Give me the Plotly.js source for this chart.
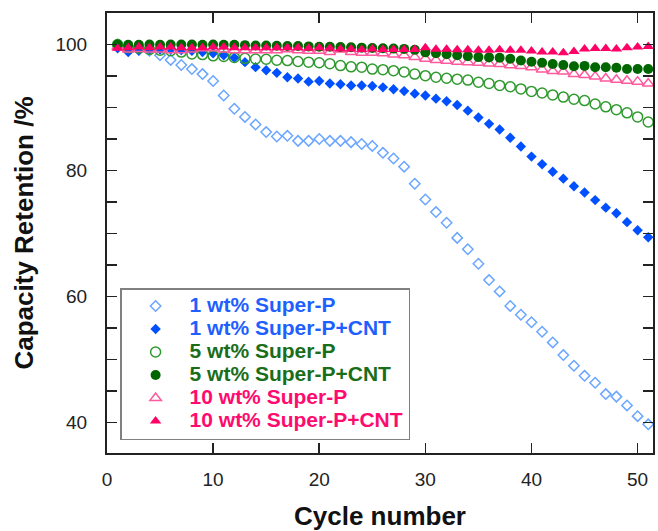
<!DOCTYPE html>
<html>
<head>
<meta charset="utf-8">
<script src="https://cdn.plot.ly/plotly-3.0.1.min.js"></script>
<style>html,body{margin:0;padding:0;background:#fff;}#chart{width:658px;height:531px;}</style>
</head>
<body>
<div id="chart"></div>
<script>
const cycles = [1,2,3,4,5,6,7,8,9,10,11,12,13,14,15,16,17,18,19,20,21,22,23,24,25,26,27,28,29,30,31,32,33,34,35,36,37,38,39,40,41,42,43,44,45,46,47,48,49,50,51];

const sp1 = [100.0,99.7,99.4,99.0,98.3,97.55,96.75,96.1,95.3,94.2,91.9,89.8,88.5,87.3,86.1,85.4,85.5,84.7,84.7,85.0,84.7,84.7,84.5,84.2,83.9,82.8,81.9,80.6,77.9,75.4,73.4,71.7,69.3,67.5,65.2,62.6,60.8,58.5,57.1,55.9,54.4,52.7,50.7,49.0,47.4,46.3,44.5,44.1,42.7,41.0,39.7];
const sp1cnt = [99.4,98.8,99.0,99.2,99.2,99.2,99.1,99.0,98.8,98.6,98.3,97.9,97.2,96.4,95.9,95.5,94.8,94.6,94.1,94.2,93.8,93.7,93.5,93.5,93.4,93.2,92.9,92.6,92.2,91.9,91.4,91.0,90.4,89.5,88.4,87.4,86.5,85.2,83.8,82.2,81.0,79.8,78.7,77.5,76.5,75.3,74.1,73.2,71.8,70.5,69.4];
const sp5 = [100.0,99.5,99.4,99.2,99.1,99.0,98.8,98.5,98.4,98.2,98.1,97.95,97.8,97.7,97.65,97.5,97.45,97.3,97.2,97.1,96.95,96.65,96.45,96.4,96.1,96.0,95.85,95.65,95.3,95.05,94.8,94.65,94.5,94.35,94.0,93.8,93.5,93.3,92.95,92.55,92.3,92.0,91.65,91.3,91.1,90.55,90.1,89.65,89.15,88.5,87.7];
const sp5cnt = [100.0,99.95,99.95,100.0,99.95,100.0,100.0,100.0,99.95,100.0,99.95,99.95,99.9,99.85,99.85,99.8,99.75,99.75,99.7,99.65,99.65,99.6,99.55,99.5,99.45,99.4,99.35,99.3,99.15,98.75,98.6,98.45,98.3,98.15,98.0,97.95,97.9,97.75,97.45,97.25,97.1,96.9,96.75,96.55,96.6,96.4,96.4,96.3,96.1,96.1,96.1];
const sp10 = [99.6,99.2,99.3,99.2,99.2,99.1,99.1,99.2,99.4,99.4,99.2,99.1,99.1,99.1,99.1,99.1,99.25,99.1,99.0,99.0,98.8,99.2,98.8,98.7,98.7,98.6,98.4,98.3,98.0,97.75,97.55,97.4,97.25,97.2,97.1,97.0,96.9,96.7,96.6,96.4,96.05,95.8,95.7,95.3,95.15,94.9,94.6,94.4,94.25,94.1,93.8];
const sp10cnt = [99.4,99.5,99.6,99.5,99.6,99.6,99.5,99.5,99.5,99.6,99.6,99.5,99.5,99.5,99.5,99.5,99.5,99.5,99.4,99.5,99.4,99.3,99.3,99.2,99.3,99.2,99.2,99.2,99.2,99.5,99.25,99.25,99.15,99.15,99.1,99.1,99.15,99.1,99.1,98.95,98.8,98.8,98.7,98.9,99.3,99.35,99.35,99.3,99.5,99.6,99.7];

const seriesNames = ["1 wt% Super-P","1 wt% Super-P+CNT","5 wt% Super-P","5 wt% Super-P+CNT","10 wt% Super-P","10 wt% Super-P+CNT"];
const yTickVals = [40,45,50,55,60,65,70,75,80,85,90,95,100];
const yTickText = ["40","","","","60","","","","80","","","","100"];
const xTickVals = [0,10,20,30,40,50];

const txtBlue = "#1f5fff", txtGreen = "#1a6e1a", txtPink = "#ff0a6e";
function lname(n, c){ return '<span style="color:'+c+';font-size:21px;font-weight:bold">'+n+'</span>'; }

const traces = [
  {x:cycles, y:sp1, name:lname(seriesNames[0],txtBlue), legendrank:1, mode:'markers', type:'scatter',
   marker:{symbol:'diamond-open', size:8, color:'#6aa6ff', line:{width:1.5, color:'#6aa6ff'}}},
  {x:cycles, y:sp1cnt, name:lname(seriesNames[1],txtBlue), legendrank:2, mode:'markers', type:'scatter',
   marker:{symbol:'diamond', size:8, color:'#0050ff'}},
  {x:cycles, y:sp5, name:lname(seriesNames[2],txtGreen), legendrank:3, mode:'markers', type:'scatter',
   marker:{symbol:'circle-open', size:10, color:'#2e9a2e', line:{width:1.5, color:'#2e9a2e'}}},
  {x:cycles, y:sp10, name:lname(seriesNames[4],txtPink), legendrank:5, mode:'markers', type:'scatter',
   marker:{symbol:'triangle-up-open', size:10, color:'#ff5a9e', line:{width:1.5, color:'#ff5a9e'}}},
  {x:cycles, y:sp5cnt, name:lname(seriesNames[3],txtGreen), legendrank:4, mode:'markers', type:'scatter',
   marker:{symbol:'circle', size:10, color:'#006600'}},
  {x:cycles, y:sp10cnt, name:lname(seriesNames[5],txtPink), legendrank:6, mode:'markers', type:'scatter',
   marker:{symbol:'triangle-up', size:10, color:'#ff0066'}}
];

const fontFam = '"Liberation Sans", Arial, sans-serif';
const layout = {
  width:658, height:531,
  margin:{l:107, r:5, t:13, b:78},
  paper_bgcolor:'#fff', plot_bgcolor:'#fff',
  font:{family:fontFam, color:'#222'},
  showlegend:true,
  legend:{x:0.024, y:0.375, xanchor:'left', yanchor:'top', bgcolor:'#fff',
    bordercolor:'#808080', borderwidth:1.5, itemwidth:58, itemsizing:'trace',
    font:{family:fontFam, size:15.4, color:'#222'}},
  xaxis:{range:[0,51.45], tickmode:'array', tickvals:xTickVals, ticks:'inside', ticklen:10, tickwidth:1.5,
    tickcolor:'#222', showline:true, linecolor:'#222', linewidth:2, mirror:'ticks', showgrid:false, zeroline:false,
    tickfont:{size:19, color:'#222'}, ticklabelstandoff:8, automargin:false,
    title:{text:'<b>Cycle number</b>', font:{size:26, color:'#111'}, standoff:22}},
  yaxis:{range:[35.15,105], tickmode:'array', tickvals:yTickVals, ticktext:yTickText, ticks:'inside', ticklen:10, tickwidth:1.5,
    tickcolor:'#222', showline:true, linecolor:'#222', linewidth:2, mirror:'ticks', showgrid:false, zeroline:false,
    tickfont:{size:19, color:'#222'}, ticklabelstandoff:14, automargin:false,
    title:{text:'<b>Capacity Retention /%</b>', font:{size:26, color:'#111'}, standoff:14}}
};

Plotly.newPlot('chart', traces, layout, {staticPlot:true, displayModeBar:false});
</script>
</body>
</html>
